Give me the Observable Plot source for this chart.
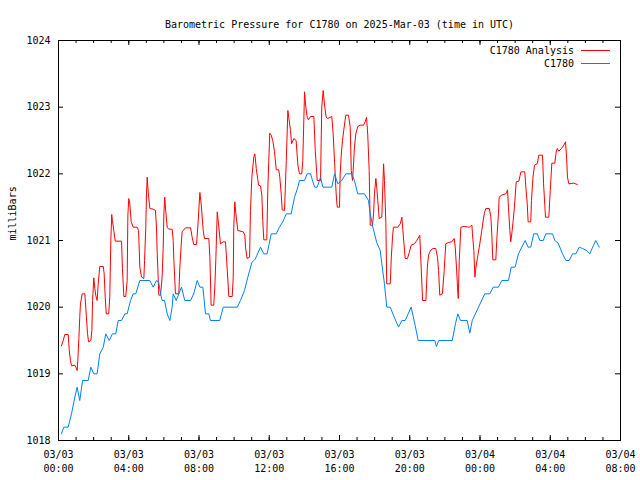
<!DOCTYPE html>
<html><head><meta charset="utf-8">
<script src="https://cdn.jsdelivr.net/npm/d3@7"></script>
<script src="https://cdn.jsdelivr.net/npm/@observablehq/plot@0.6"></script>
<style>
body{margin:0;background:#fff}
#wrap{position:relative;width:640px;height:480px;font-family:"DejaVu Sans Mono",monospace;font-size:10px;color:#000}
.legend{position:absolute;right:30px;top:44px}
.row{display:flex;align-items:center;justify-content:flex-end;height:13px;white-space:pre}
.swatch{display:inline-block;width:29px;height:0;border-top:1px solid;margin-left:7px}
</style></head><body>
<div id="wrap"></div>
<script>
const title = "Barometric Pressure for C1780 on 2025-Mar-03 (time in UTC)";
const yLabel = "milliBars";
const seriesNames = ["C1780 Analysis", "C1780"];
const seriesColors = ["#ff0000", "#0080ff"];
const startDate = "2025-03-03T00:00:00Z";
const endDate = "2025-03-04T08:00:00Z";
const yTicks = [1018, 1019, 1020, 1021, 1022, 1023, 1024];

// [hours since 03/03 00:00 UTC, millibars]
const analysis = [[0.17,1019.42],[0.27,1019.5],[0.36,1019.59],[0.55,1019.59],[0.61,1019.36],[0.68,1019.2],[0.74,1019.12],[0.93,1019.13],[0.99,1019.1],[1.06,1019.05],[1.10,1019.2],[1.16,1019.53],[1.21,1019.85],[1.25,1020.05],[1.35,1020.2],[1.50,1020.2],[1.59,1019.85],[1.65,1019.61],[1.71,1019.48],[1.84,1019.5],[1.90,1019.65],[1.94,1020.1],[2.01,1020.44],[2.07,1020.28],[2.12,1020.18],[2.20,1020.1],[2.26,1020.35],[2.35,1020.61],[2.55,1020.61],[2.60,1020.5],[2.66,1020.15],[2.72,1019.9],[2.86,1019.9],[2.92,1020.16],[2.98,1021.0],[3.03,1021.39],[3.07,1021.3],[3.15,1021.15],[3.23,1020.99],[3.59,1020.99],[3.64,1020.58],[3.72,1020.16],[3.83,1020.16],[3.91,1020.4],[3.95,1021.38],[4.00,1021.63],[4.06,1021.55],[4.14,1021.28],[4.25,1021.2],[4.48,1021.2],[4.56,1021.15],[4.63,1020.6],[4.73,1020.45],[4.86,1020.43],[4.90,1020.7],[4.97,1021.2],[5.01,1021.7],[5.05,1021.95],[5.11,1021.72],[5.20,1021.48],[5.39,1021.47],[5.52,1021.45],[5.58,1021.2],[5.62,1020.82],[5.71,1020.18],[5.81,1020.18],[5.90,1020.45],[5.96,1020.88],[6.00,1021.4],[6.05,1021.65],[6.11,1021.43],[6.19,1021.2],[6.28,1021.17],[6.47,1021.17],[6.53,1021.0],[6.57,1020.7],[6.66,1020.2],[6.85,1020.2],[6.91,1020.6],[6.99,1020.95],[7.04,1021.13],[7.23,1021.19],[7.52,1021.19],[7.61,1021.05],[7.70,1020.94],[7.86,1020.94],[7.93,1021.2],[8.05,1021.72],[8.13,1021.53],[8.24,1021.15],[8.31,1021.03],[8.56,1021.03],[8.62,1020.75],[8.69,1020.03],[8.84,1020.03],[8.90,1020.3],[8.96,1020.73],[9.04,1021.43],[9.13,1021.2],[9.22,1020.95],[9.38,1020.98],[9.51,1020.98],[9.61,1020.55],[9.70,1020.16],[9.89,1020.16],[9.95,1020.45],[9.98,1021.2],[10.04,1021.58],[10.10,1021.4],[10.21,1021.15],[10.52,1021.13],[10.61,1021.08],[10.65,1020.9],[10.74,1020.73],[10.88,1020.75],[10.93,1021.45],[11.01,1021.95],[11.12,1022.25],[11.18,1022.3],[11.26,1022.08],[11.35,1021.91],[11.39,1021.83],[11.50,1021.82],[11.58,1021.68],[11.63,1021.3],[11.69,1021.01],[11.86,1021.01],[11.92,1021.8],[12.03,1022.61],[12.11,1022.58],[12.20,1022.5],[12.30,1022.33],[12.40,1022.06],[12.54,1022.06],[12.60,1021.95],[12.68,1021.7],[12.74,1021.46],[12.87,1021.45],[12.97,1022.2],[13.06,1022.95],[13.11,1022.85],[13.21,1022.65],[13.27,1022.45],[13.40,1022.53],[13.53,1022.5],[13.63,1022.13],[13.72,1022.0],[13.85,1022.0],[13.91,1022.2],[14.01,1023.23],[14.07,1023.03],[14.16,1022.85],[14.23,1022.81],[14.35,1022.86],[14.54,1022.86],[14.62,1022.35],[14.73,1021.9],[14.92,1021.9],[14.99,1023.0],[15.07,1023.25],[15.15,1023.03],[15.24,1022.85],[15.33,1022.83],[15.56,1022.86],[15.64,1022.6],[15.72,1022.17],[15.81,1021.7],[15.87,1021.5],[16.00,1021.5],[16.04,1022.0],[16.09,1022.25],[16.17,1022.5],[16.24,1022.65],[16.36,1022.88],[16.51,1022.88],[16.61,1022.7],[16.67,1022.05],[16.74,1021.9],[16.80,1022.15],[16.85,1022.4],[16.93,1022.6],[17.04,1022.71],[17.18,1022.73],[17.37,1022.73],[17.46,1022.78],[17.54,1022.85],[17.61,1022.58],[17.69,1022.05],[17.75,1021.23],[17.88,1021.23],[17.94,1021.4],[17.99,1021.7],[18.07,1021.93],[18.12,1021.8],[18.18,1021.6],[18.26,1021.33],[18.41,1021.35],[18.45,1021.68],[18.51,1022.15],[18.56,1021.9],[18.64,1021.25],[18.69,1020.35],[18.89,1020.35],[18.95,1020.75],[19.02,1021.05],[19.07,1021.2],[19.32,1021.2],[19.46,1021.25],[19.55,1021.35],[19.64,1021.05],[19.74,1020.73],[19.87,1020.73],[19.97,1020.82],[20.08,1020.93],[20.27,1020.95],[20.40,1021.0],[20.57,1021.08],[20.65,1020.6],[20.73,1020.1],[20.92,1020.1],[21.00,1020.6],[21.07,1020.78],[21.16,1020.84],[21.30,1020.88],[21.48,1020.88],[21.58,1020.75],[21.64,1020.55],[21.71,1020.18],[21.86,1020.2],[21.96,1020.55],[22.05,1020.95],[22.20,1020.97],[22.39,1020.98],[22.53,1021.03],[22.59,1020.9],[22.66,1020.6],[22.72,1020.3],[22.76,1020.13],[22.82,1020.7],[22.91,1021.2],[23.10,1021.21],[23.39,1021.2],[23.54,1021.23],[23.57,1021.1],[23.65,1020.85],[23.71,1020.45],[23.76,1020.58],[23.86,1020.75],[23.96,1020.9],[24.10,1021.15],[24.24,1021.4],[24.33,1021.48],[24.53,1021.48],[24.62,1021.35],[24.67,1021.1],[24.73,1020.71],[24.90,1020.71],[24.96,1021.03],[25.05,1021.4],[25.09,1021.65],[25.24,1021.68],[25.47,1021.7],[25.57,1021.76],[25.62,1021.5],[25.70,1021.15],[25.75,1020.98],[25.81,1021.1],[25.89,1021.3],[25.96,1021.5],[26.06,1021.88],[26.21,1021.89],[26.33,1022.03],[26.55,1022.03],[26.61,1021.8],[26.69,1021.55],[26.74,1021.28],[26.89,1021.28],[26.93,1021.6],[27.01,1021.93],[27.10,1022.13],[27.26,1022.15],[27.35,1022.28],[27.56,1022.28],[27.62,1021.85],[27.69,1021.53],[27.73,1021.35],[27.92,1021.35],[28.00,1021.75],[28.09,1022.16],[28.26,1022.16],[28.34,1022.33],[28.40,1022.38],[28.49,1022.34],[28.64,1022.38],[28.77,1022.43],[28.87,1022.48],[28.93,1022.25],[28.98,1021.95],[29.06,1021.85],[29.34,1021.86],[29.54,1021.84]];

const station = [[0.17,1018.1],[0.30,1018.2],[0.55,1018.2],[0.74,1018.4],[0.93,1018.65],[1.06,1018.8],[1.21,1018.6],[1.37,1018.9],[1.69,1018.9],[1.84,1019.1],[2.01,1019.0],[2.20,1019.0],[2.35,1019.3],[2.55,1019.4],[2.69,1019.6],[2.89,1019.5],[3.07,1019.6],[3.26,1019.6],[3.40,1019.8],[3.59,1019.8],[3.78,1019.9],[3.91,1019.9],[4.10,1020.1],[4.25,1020.2],[4.40,1020.2],[4.63,1020.4],[5.20,1020.4],[5.39,1020.3],[5.58,1020.4],[5.71,1020.37],[5.81,1020.2],[5.90,1020.1],[6.04,1020.1],[6.19,1019.9],[6.34,1019.8],[6.47,1020.0],[6.53,1020.2],[6.70,1020.1],[6.85,1020.2],[7.00,1020.3],[7.19,1020.1],[7.52,1020.1],[7.70,1020.2],[7.90,1020.4],[8.05,1020.3],[8.22,1020.3],[8.37,1019.9],[8.56,1019.9],[8.65,1019.8],[9.18,1019.8],[9.38,1020.0],[10.18,1020.0],[10.36,1020.1],[10.59,1020.25],[10.78,1020.45],[11.01,1020.67],[11.20,1020.72],[11.50,1020.9],[11.69,1020.8],[11.88,1020.8],[12.11,1021.1],[12.40,1021.1],[12.58,1021.2],[12.77,1021.28],[12.97,1021.4],[13.25,1021.4],[13.44,1021.65],[13.63,1021.8],[13.72,1021.9],[14.01,1021.9],[14.16,1022.0],[14.35,1022.0],[14.58,1021.8],[14.73,1021.8],[14.92,1021.95],[15.05,1021.8],[15.56,1021.8],[15.72,1022.0],[15.90,1021.85],[16.13,1021.9],[16.36,1022.0],[16.70,1022.0],[16.85,1021.9],[17.04,1021.7],[17.42,1021.7],[17.65,1021.6],[17.75,1021.4],[17.90,1021.2],[18.12,1020.97],[18.32,1020.85],[18.41,1020.65],[18.56,1020.35],[18.69,1020.0],[18.89,1020.0],[19.07,1019.88],[19.36,1019.7],[19.55,1019.8],[19.74,1019.8],[20.08,1020.0],[20.29,1019.75],[20.48,1019.5],[21.43,1019.5],[21.52,1019.41],[21.65,1019.5],[22.42,1019.5],[22.60,1019.75],[22.74,1019.9],[22.89,1019.8],[23.27,1019.8],[23.42,1019.61],[23.56,1019.8],[24.27,1020.2],[24.56,1020.2],[24.75,1020.3],[25.05,1020.3],[25.24,1020.4],[25.62,1020.4],[25.78,1020.6],[26.00,1020.6],[26.19,1020.8],[26.57,1021.0],[26.74,1020.9],[26.89,1020.9],[27.06,1021.1],[27.26,1021.1],[27.41,1021.0],[27.60,1021.0],[27.75,1021.1],[28.13,1021.1],[28.26,1021.0],[28.45,1020.96],[28.70,1020.8],[28.89,1020.7],[29.08,1020.7],[29.27,1020.8],[29.46,1020.8],[29.65,1020.9],[29.84,1020.88],[30.06,1020.85],[30.25,1020.8],[30.45,1020.92],[30.59,1021.0],[30.79,1020.9]];

const W = 640, H = 480, mL = 58, mR = 20, mT = 40, mB = 40;
const plotW = W - mL - mR, plotH = H - mT - mB;
const t0 = new Date(startDate), t1 = new Date(endDate);
const toRows = arr => arr.map(([h, v]) => ({t: new Date(+t0 + h * 3600000), v}));
const analysisRows = toRows(analysis);
const stationRows = toRows(station);
const majorTicks = d3.utcHour.every(4).range(t0, new Date(+t1 + 1));
const minorTicks = d3.utcHour.range(t0, new Date(+t1 + 1));
const inner = yTicks.slice(1, -1);
const font = "DejaVu Sans Mono, monospace";

const chart = Plot.plot({
  width: W, height: H,
  marginLeft: mL, marginRight: mR, marginTop: mT, marginBottom: mB,
  style: {fontFamily: font, fontSize: "10px", background: "white", color: "black", overflow: "visible"},
  x: {type: "utc", domain: [t0, t1]},
  y: {domain: [yTicks[0], yTicks[yTicks.length - 1]]},
  marks: [
    Plot.line(analysisRows, {x: "t", y: "v", stroke: seriesColors[0], strokeWidth: 1}),
    Plot.line(stationRows, {x: "t", y: "v", stroke: seriesColors[1], strokeWidth: 1}),
    Plot.tickX(minorTicks, {x: d => d, insetTop: plotH - 3, stroke: "black"}),
    Plot.tickX(minorTicks, {x: d => d, insetBottom: plotH - 3, stroke: "black"}),
    Plot.tickX(majorTicks, {x: d => d, insetTop: plotH - 5, stroke: "black"}),
    Plot.tickX(majorTicks, {x: d => d, insetBottom: plotH - 5, stroke: "black"}),
    Plot.tickY(inner, {y: d => d, insetRight: plotW - 5, stroke: "black"}),
    Plot.tickY(inner, {y: d => d, insetLeft: plotW - 5, stroke: "black"}),
    Plot.frame({stroke: "black"}),
    Plot.axisX({ticks: majorTicks, tickSize: 0, tickPadding: 8, lineHeight: 1.35,
      tickFormat: d3.utcFormat("%m/%d\n%H:%M"), label: null}),
    Plot.axisY({ticks: yTicks, tickSize: 0, tickPadding: 8, tickFormat: d => String(d), label: null}),
    Plot.text([title], {frameAnchor: "top", dy: -20, text: d => d}),
    Plot.text([yLabel], {frameAnchor: "left", dx: -46, rotate: -90, text: d => d})
  ]
});
const wrap = document.getElementById("wrap");
wrap.appendChild(chart);
const legend = document.createElement("div");
legend.className = "legend";
seriesNames.forEach((name, i) => {
  const row = document.createElement("div");
  row.className = "row";
  const label = document.createElement("span");
  label.textContent = name;
  const sw = document.createElement("span");
  sw.className = "swatch";
  sw.style.borderTopColor = seriesColors[i];
  row.appendChild(label);
  row.appendChild(sw);
  legend.appendChild(row);
});
wrap.appendChild(legend);
</script>
</body></html>
